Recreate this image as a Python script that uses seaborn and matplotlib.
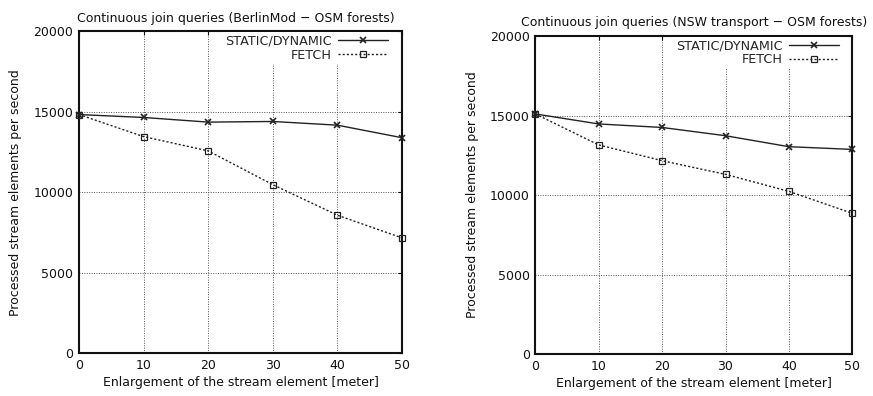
import matplotlib
matplotlib.use("Agg")
import matplotlib.pyplot as plt
import seaborn as sns
import pandas as pd

# Enlargement of the stream element in meters
enlargement = [0, 10, 20, 30, 40, 50]

# Throughput (stream elements per second), BerlinMod vs OSM forests
berlin_static = [14830, 14650, 14360, 14400, 14170, 13390]
berlin_fetch = [14830, 13460, 12570, 10470, 8570, 7160]

# Throughput (stream elements per second), NSW transport vs OSM forests
nsw_static = [15100, 14470, 14250, 13730, 13040, 12870]
nsw_fetch = [15100, 13150, 12160, 11300, 10230, 8850]

titles = ["Continuous join queries (BerlinMod \u2212 OSM forests)",
          "Continuous join queries (NSW transport \u2212 OSM forests)"]
series_names = ["STATIC/DYNAMIC", "FETCH"]
y_ticks = [0, 5000, 10000, 15000, 20000]
x_ticks = [0, 10, 20, 30, 40, 50]

sns.set_style("white")
plt.rcParams["font.family"] = ["DejaVu Sans"]

fig = plt.figure(figsize=(8.73, 3.96), dpi=100)
axes = [fig.add_axes([0.0905, 0.1086, 0.370, 0.812]),
        fig.add_axes([0.6132, 0.1060, 0.3631, 0.803])]

panels = [(berlin_static, berlin_fetch), (nsw_static, nsw_fetch)]
title_x = [0.487, 0.5]
line_color = "#222222"

for ax, title, tx, (stat, fetch) in zip(axes, titles, title_x, panels):
    df = pd.DataFrame({"x": enlargement, "static": stat, "fetch": fetch})
    sns.lineplot(data=df, x="x", y="static", ax=ax, color=line_color,
                 linewidth=1.0, marker="x", markersize=5,
                 markeredgecolor=line_color, markeredgewidth=1.2,
                 label=series_names[0], zorder=3, clip_on=False)
    sns.lineplot(data=df, x="x", y="fetch", ax=ax, color=line_color,
                 linewidth=1.0, linestyle=(0, (1.5, 1.5)), marker="s",
                 markersize=5, markerfacecolor="none",
                 markeredgecolor=line_color, markeredgewidth=0.9,
                 label=series_names[1], zorder=3, clip_on=False)

    ax.set_xlim(0, 50)
    ax.set_ylim(0, 20000)
    ax.set_xticks(x_ticks)
    ax.set_yticks(y_ticks)
    ax.tick_params(axis="both", labelsize=9, direction="in", length=3,
                   width=0.8, colors="#111111", top=True, right=True, pad=4)
    ax.grid(True, color="#555555", linestyle=(0, (1, 1.5)), linewidth=0.7)
    ax.set_axisbelow(True)
    for sp in ax.spines.values():
        sp.set_color("#111111")
        sp.set_linewidth(1.5)

    ax.set_title(title, fontsize=9, pad=7, color="#111111", x=tx)
    ax.set_xlabel("Enlargement of the stream element [meter]", fontsize=9,
                  color="#111111", labelpad=3)
    ax.set_ylabel("Processed stream elements per second", fontsize=9,
                  color="#111111", labelpad=8)

    leg = ax.legend(loc="upper right", bbox_to_anchor=(0.965, 0.997),
                    markerfirst=False, frameon=True,
                    fontsize=9.2, handlelength=3.9, handletextpad=0.5,
                    borderpad=0.2, labelspacing=0.05,
                    borderaxespad=0.0, fancybox=False)
    leg.get_frame().set_edgecolor("none")
    leg.get_frame().set_facecolor("white")
    leg.get_frame().set_alpha(1.0)
    for t in leg.get_texts():
        t.set_ha("right")
    leg.set_zorder(5)

fig.savefig("out.png", dpi=100)
